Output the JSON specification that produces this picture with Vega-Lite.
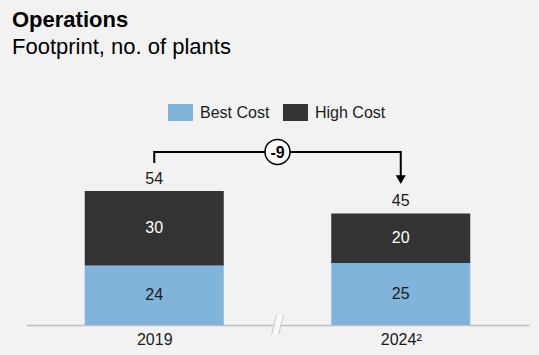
{
  "$schema": "https://vega.github.io/schema/vega-lite/v6.json",
  "width": 503,
  "height": 248,
  "autosize": {"type": "none"},
  "padding": {"left": 26, "top": 77, "right": 10, "bottom": 30},
  "background": "#f2f2f2",
  "title": {
    "text": "Operations",
    "subtitle": "Footprint, no. of plants",
    "anchor": "start",
    "frame": "group",
    "dx": -14,
    "offset": 18,
    "font": "Liberation Sans",
    "fontSize": 22,
    "fontWeight": "bold",
    "color": "#000000",
    "subtitleFont": "Liberation Sans",
    "subtitleFontSize": 22,
    "subtitleColor": "#000000",
    "subtitlePadding": 5
  },
  "config": {
    "view": {"stroke": null},
    "font": "Liberation Sans"
  },
  "datasets": {
    "plants": [
      {"year": 2019, "category": "Best Cost", "plants": 24},
      {"year": 2019, "category": "High Cost", "plants": 30},
      {"year": 2024, "category": "Best Cost", "plants": 25},
      {"year": 2024, "category": "High Cost", "plants": 20}
    ],
    "bracket": [
      {"step": 1, "year": 2019, "level": 65.3},
      {"step": 2, "year": 2019, "level": 69.8},
      {"step": 3, "year": 2024, "level": 69.8},
      {"step": 4, "year": 2024, "level": 60}
    ],
    "change": [
      {"year": 2021.5, "level": 69.8, "label": "-9"}
    ],
    "arrow": [
      {"year": 2024, "level": 58.6}
    ],
    "axisbreak": [
      {"year": 2021.5, "level": 0}
    ]
  },
  "layer": [
    {
      "data": {"name": "plants"},
      "mark": {"type": "bar", "width": 139},
      "encoding": {
        "x": {
          "field": "year",
          "type": "quantitative",
          "scale": {"domain": [2016.5, 2026.5], "nice": false, "zero": false},
          "axis": {
            "title": null,
            "values": [2019, 2024],
            "format": "d",
            "labelExpr": "datum.value == 2024 ? '2024²' : datum.label",
            "grid": false,
            "ticks": false,
            "labelPadding": 6,
            "labelFont": "Liberation Sans",
            "labelFontSize": 16,
            "labelColor": "#1a1a1a",
            "domainColor": "#bfbfbf",
            "domainWidth": 1.5
          }
        },
        "y": {
          "field": "plants",
          "type": "quantitative",
          "stack": "zero",
          "scale": {"domain": [0, 100], "nice": false},
          "axis": null
        },
        "color": {
          "field": "category",
          "type": "nominal",
          "scale": {"domain": ["Best Cost", "High Cost"], "range": ["#80b4da", "#333333"]},
          "legend": {
            "title": null,
            "orient": "none",
            "direction": "horizontal",
            "legendX": 142,
            "legendY": 23,
            "padding": 0,
            "symbolType": "M-1,-0.68H1V0.68H-1Z",
            "symbolSize": 625,
            "symbolStrokeWidth": 0,
            "symbolOpacity": 1,
            "labelFont": "Liberation Sans",
            "labelFontSize": 16,
            "labelColor": "#1a1a1a",
            "labelOffset": 7,
            "columnPadding": 13
          }
        },
        "order": {"field": "category", "sort": "ascending"}
      }
    },
    {
      "data": {"name": "plants"},
      "mark": {"type": "text", "font": "Liberation Sans", "fontSize": 16, "baseline": "middle"},
      "encoding": {
        "x": {"field": "year", "type": "quantitative"},
        "y": {"field": "plants", "type": "quantitative", "stack": "zero", "bandPosition": 0.5},
        "text": {"field": "plants", "type": "quantitative"},
        "detail": {"field": "category"},
        "order": {"field": "category", "sort": "ascending"},
        "color": {
          "condition": {"test": "datum.category == 'High Cost'", "value": "#ffffff"},
          "value": "#1a1a1a"
        }
      }
    },
    {
      "data": {"name": "plants"},
      "transform": [
        {"aggregate": [{"op": "sum", "field": "plants", "as": "total"}], "groupby": ["year"]}
      ],
      "mark": {"type": "text", "font": "Liberation Sans", "fontSize": 16, "baseline": "alphabetic", "dy": -7, "color": "#1a1a1a"},
      "encoding": {
        "x": {"field": "year", "type": "quantitative"},
        "y": {"field": "total", "type": "quantitative"},
        "text": {"field": "total", "type": "quantitative"}
      }
    },
    {
      "data": {"name": "bracket"},
      "mark": {"type": "line", "color": "#000000", "strokeWidth": 2, "strokeJoin": "miter", "strokeCap": "butt"},
      "encoding": {
        "x": {"field": "year", "type": "quantitative"},
        "y": {"field": "level", "type": "quantitative"},
        "order": {"field": "step", "type": "quantitative"}
      }
    },
    {
      "data": {"name": "arrow"},
      "mark": {"type": "point", "shape": "triangle-down", "size": 100, "filled": true, "color": "#000000", "opacity": 1},
      "encoding": {
        "x": {"field": "year", "type": "quantitative"},
        "y": {"field": "level", "type": "quantitative"}
      }
    },
    {
      "data": {"name": "change"},
      "mark": {"type": "point", "shape": "circle", "size": 625, "filled": false, "fill": "#ffffff", "fillOpacity": 1, "stroke": "#000000", "strokeWidth": 1.5, "opacity": 1},
      "encoding": {
        "x": {"field": "year", "type": "quantitative"},
        "y": {"field": "level", "type": "quantitative"}
      }
    },
    {
      "data": {"name": "change"},
      "mark": {"type": "text", "font": "Liberation Sans", "fontSize": 16, "fontWeight": "bold", "baseline": "middle", "align": "center", "color": "#000000", "dy": 1},
      "encoding": {
        "x": {"field": "year", "type": "quantitative"},
        "y": {"field": "level", "type": "quantitative"},
        "text": {"field": "label"}
      }
    },
    {
      "data": {"name": "axisbreak"},
      "mark": {"type": "point", "shape": "M-0.1,-1L0.6,-1L0.1,1L-0.6,1Z", "size": 400, "filled": true, "color": "#f8f8f8", "opacity": 1},
      "encoding": {
        "x": {"field": "year", "type": "quantitative"},
        "y": {"field": "level", "type": "quantitative"}
      }
    },
    {
      "data": {"name": "axisbreak"},
      "mark": {"type": "point", "shape": "M-0.1,-1L-0.6,1M0.6,-1L0.1,1", "size": 400, "filled": false, "stroke": "#c8c8c8", "strokeWidth": 1, "opacity": 1},
      "encoding": {
        "x": {"field": "year", "type": "quantitative"},
        "y": {"field": "level", "type": "quantitative"}
      }
    }
  ]
}
